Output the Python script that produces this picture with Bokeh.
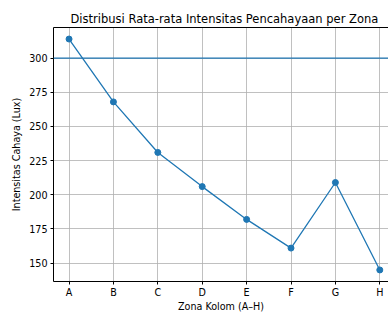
from bokeh.plotting import figure
from bokeh.models import Range1d, FixedTicker, LinearAxis, Span
from bokeh.embed import file_html
from bokeh.resources import INLINE

zones = ["A", "B", "C", "D", "E", "F", "G", "H"]
intensity = [314, 268, 231, 206, 182, 161, 209, 145]
threshold = 300
y_ticks = [150, 175, 200, 225, 250, 275, 300]

BLUE = "#1f77b4"
FONT = "DejaVu Sans"

xs = list(range(len(zones)))
span = max(intensity) - min(intensity)
y_lo = min(intensity) - 0.05 * span
y_hi = max(intensity) + 0.05 * span

p = figure(width=388, height=314, output_backend="svg", toolbar_location=None,
           x_range=Range1d(-0.35, 7.196), y_range=Range1d(y_lo, y_hi),
           min_border_left=53, min_border_top=27, min_border_bottom=32,
           min_border_right=0,
           title="Distribusi Rata-rata Intensitas Pencahayaan per Zona")

p.title.text_font = FONT
p.title.text_font_size = "11.5px"
p.title.text_font_style = "normal"
p.title.text_color = "#000000"
p.title.align = "left"
p.title.offset = 17
p.title.standoff = 4

p.outline_line_color = None
p.background_fill_color = "white"
p.border_fill_color = "white"

xaxis = p.below[0]
yaxis = p.left[0]

for ax in (xaxis, yaxis):
    ax.axis_line_color = "black"
    ax.axis_line_width = 1
    ax.major_tick_in = 0
    ax.major_tick_out = 3
    ax.major_tick_line_color = "black"
    ax.minor_tick_line_color = None
    ax.major_label_text_font = FONT
    ax.major_label_text_font_size = "9.6px"
    ax.major_label_text_color = "#000000"
    ax.axis_label_text_font = FONT
    ax.axis_label_text_font_size = "9.6px"
    ax.axis_label_text_font_style = "normal"
    ax.axis_label_text_color = "#000000"

xaxis.major_label_standoff = 2
xaxis.axis_label_standoff = 0
yaxis.major_label_standoff = 3
yaxis.axis_label_standoff = 4

xaxis.ticker = FixedTicker(ticks=xs)
xaxis.major_label_overrides = {i: z for i, z in enumerate(zones)}
xaxis.axis_label = "Zona Kolom (A\u2013H)"
yaxis.ticker = FixedTicker(ticks=y_ticks)
yaxis.axis_label = "Intensitas Cahaya (Lux)"

# top spine
top = LinearAxis(ticker=FixedTicker(ticks=[]), major_tick_line_color=None,
                 minor_tick_line_color=None, major_label_text_font_size="0px",
                 axis_line_color="black", axis_line_width=1)
p.add_layout(top, "above")

p.xgrid.ticker = FixedTicker(ticks=xs)
p.ygrid.ticker = FixedTicker(ticks=y_ticks)
for g in (p.xgrid[0], p.ygrid[0]):
    g.grid_line_color = "#b0b0b0"
    g.grid_line_width = 0.8

p.line(xs, intensity, line_color=BLUE, line_width=1.3)
p.scatter(xs, intensity, size=6, fill_color=BLUE, line_color=BLUE)

p.add_layout(Span(location=threshold, dimension="width", line_color=BLUE,
                  line_width=1.3))

open("out.html", "w").write(file_html(p, INLINE))
